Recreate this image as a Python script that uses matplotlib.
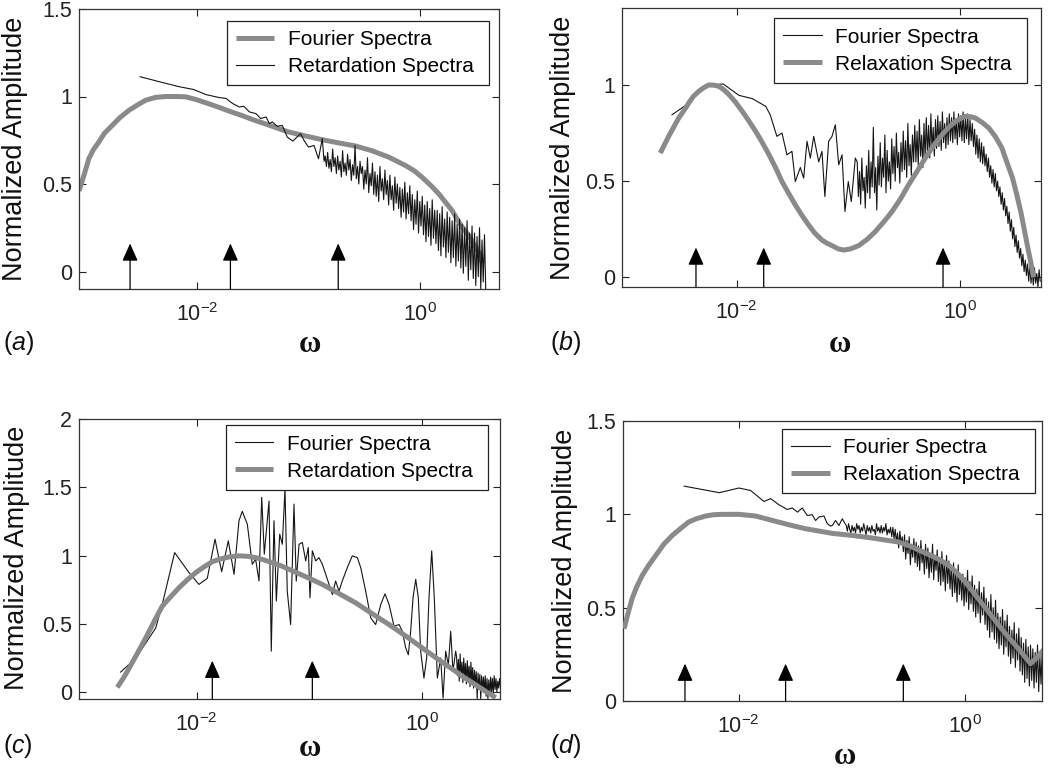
import numpy as np
import matplotlib
matplotlib.use("Agg")
import matplotlib.pyplot as plt
from matplotlib.ticker import FixedLocator, FixedFormatter, NullLocator

plt.rcParams['font.family'] = ['Liberation Sans', 'DejaVu Sans']
plt.rcParams['mathtext.fontset'] = 'custom'
plt.rcParams['mathtext.rm'] = 'Liberation Sans'
plt.rcParams['mathtext.it'] = 'Liberation Sans:italic'
plt.rcParams['mathtext.bf'] = 'Liberation Sans:bold'

# ---------------- data (x values are log10(omega)) -------------
# panel (a)
a_smooth_logw = [-3.058, -3.01, -2.97, -2.93, -2.88, -2.83, -2.76, -2.69, -2.61, -2.53, -2.46, -2.37,
                 -2.28, -2.19, -2.10, -2.01, -1.92, -1.81, -1.71, -1.60, -1.50, -1.38, -1.265, -1.175,
                 -1.03, -0.876, -0.73, -0.577, -0.43, -0.278, -0.128, -0.05, 0.02, 0.10, 0.17, 0.23,
                 0.29, 0.35, 0.44, 0.53, 0.56]
a_smooth_amp = [0.46, 0.557, 0.644, 0.695, 0.74, 0.79, 0.835, 0.88, 0.921, 0.953, 0.979, 0.995,
                1.0, 1.0, 0.998, 0.983, 0.964, 0.94, 0.916, 0.892, 0.868, 0.842, 0.816, 0.797,
                0.775, 0.753, 0.735, 0.717, 0.69, 0.653, 0.605, 0.575, 0.538, 0.49, 0.443, 0.395,
                0.347, 0.28, 0.203, 0.107, 0.05]
a_noisy_logw = [-2.51, -2.31, -2.16, -2.03, -1.92, -1.80, -1.74, -1.68, -1.62, -1.58, -1.53, -1.47, -1.43,
                -1.38, -1.35, -1.325, -1.28, -1.235, -1.19, -1.14, -1.10, -1.07, -1.04, -1.00, -0.95,
                -0.91, -0.876, -0.86]
a_noisy_amp = [1.113, 1.08, 1.056, 1.04, 1.011, 0.994, 0.989, 0.96, 0.94, 0.944, 0.912, 0.902, 0.874,
               0.883, 0.845, 0.855, 0.83, 0.835, 0.768, 0.745, 0.77, 0.787, 0.749, 0.711, 0.72,
               0.644, 0.76, 0.63]
a_dense_range = (-0.85, 0.59)
a_dense_amp = [0.66, 0.60, 0.68, 0.59, 0.64, 0.57, 0.70, 0.60, 0.65, 0.56,
               0.66, 0.58, 0.63, 0.54, 0.69, 0.57, 0.62, 0.55, 0.67, 0.58,
               0.64, 0.52, 0.61, 0.55, 0.72, 0.53, 0.60, 0.50, 0.63, 0.56,
               0.60, 0.47, 0.58, 0.50, 0.65, 0.45, 0.56, 0.49, 0.62, 0.44,
               0.57, 0.43, 0.55, 0.40, 0.60, 0.46, 0.53, 0.41, 0.58, 0.44,
               0.52, 0.38, 0.55, 0.41, 0.49, 0.35, 0.54, 0.39, 0.50, 0.36,
               0.48, 0.31, 0.47, 0.34, 0.51, 0.30, 0.45, 0.33, 0.49, 0.29,
               0.44, 0.24, 0.41, 0.27, 0.46, 0.22, 0.40, 0.26, 0.43, 0.21,
               0.38, 0.17, 0.40, 0.20, 0.36, 0.15, 0.41, 0.19, 0.35, 0.16,
               0.35, 0.12, 0.33, 0.09, 0.37, 0.14, 0.30, 0.08, 0.34, 0.11,
               0.31, 0.05, 0.29, 0.08, 0.33, 0.03, 0.27, 0.06, 0.30, 0.02,
               0.27, -0.01, 0.25, 0.03, 0.29, -0.05, 0.22, 0.01, 0.26, -0.04,
               0.22, -0.08, 0.20, -0.03, 0.25, -0.10, 0.18, -0.06, 0.21, -0.10]
a_arrows_logw = [-2.60, -1.70, -0.733]
a_arrow_tip = 0.16

# panel (b)
b_smooth_logw = [-2.685, -2.61, -2.52, -2.47, -2.43, -2.39, -2.34, -2.29, -2.25, -2.205, -2.16, -2.115,
                 -2.07, -2.01, -1.95, -1.89, -1.83, -1.77, -1.71, -1.65, -1.594, -1.535, -1.475, -1.415,
                 -1.355, -1.30, -1.236, -1.19, -1.146, -1.09, -1.04, -0.98, -0.907, -0.83, -0.758,
                 -0.68, -0.608, -0.53, -0.461, -0.385, -0.31, -0.235, -0.16, -0.10, -0.04, 0.00,
                 0.05, 0.095, 0.14, 0.20, 0.26, 0.32, 0.377, 0.42, 0.47, 0.51, 0.55, 0.58, 0.61,
                 0.635, 0.66]
b_smooth_amp = [0.646, 0.733, 0.828, 0.87, 0.906, 0.94, 0.967, 0.988, 1.0, 0.999, 0.993, 0.975,
                0.95, 0.91, 0.863, 0.812, 0.759, 0.70, 0.637, 0.568, 0.498, 0.437, 0.377, 0.322,
                0.272, 0.23, 0.194, 0.177, 0.165, 0.148, 0.142, 0.148, 0.165, 0.198, 0.238,
                0.29, 0.342, 0.41, 0.48, 0.55, 0.62, 0.685, 0.741, 0.78, 0.811, 0.825,
                0.837, 0.835, 0.828, 0.805, 0.776, 0.73, 0.672, 0.60, 0.52, 0.43, 0.33, 0.24, 0.15,
                0.08, 0.0]
b_noisy_logw = [-2.58, -2.535, -2.43, -2.34, -2.25, -2.12, -1.98, -1.86, -1.74, -1.70, -1.64, -1.594,
                -1.55, -1.505, -1.475, -1.43, -1.40, -1.37, -1.34, -1.31, -1.265, -1.236, -1.21,
                -1.176, -1.146, -1.116, -1.086, -1.056, -1.03, -1.00, -0.973, -0.937]
b_noisy_amp = [0.845, 0.863, 0.906, 0.97, 1.0, 1.005, 0.946, 0.929, 0.889, 0.845, 0.733, 0.75,
               0.637, 0.655, 0.498, 0.571, 0.516, 0.707, 0.62, 0.733, 0.60, 0.655, 0.42,
               0.707, 0.733, 0.793, 0.585, 0.637, 0.342, 0.498, 0.394, 0.62]
b_dense_range = (-0.92, 0.72)
b_dense_amp = [0.60, 0.42, 0.55, 0.38, 0.62, 0.45, 0.52, 0.36, 0.58, 0.44,
               0.66, 0.41, 0.60, 0.47, 0.78, 0.44, 0.57, 0.35, 0.63, 0.48,
               0.70, 0.47, 0.62, 0.52, 0.74, 0.44, 0.66, 0.50, 0.60, 0.46,
               0.72, 0.54, 0.68, 0.50, 0.75, 0.57, 0.65, 0.49, 0.70, 0.55,
               0.76, 0.56, 0.71, 0.52, 0.80, 0.58, 0.69, 0.53, 0.74, 0.60,
               0.79, 0.60, 0.76, 0.58, 0.82, 0.63, 0.74, 0.57, 0.80, 0.62,
               0.83, 0.64, 0.79, 0.62, 0.85, 0.66, 0.78, 0.63, 0.82, 0.67,
               0.84, 0.68, 0.81, 0.66, 0.86, 0.70, 0.80, 0.67, 0.83, 0.69,
               0.85, 0.71, 0.83, 0.70, 0.86, 0.72, 0.82, 0.69, 0.85, 0.73,
               0.84, 0.71, 0.86, 0.70, 0.83, 0.72, 0.85, 0.69, 0.82, 0.71,
               0.80, 0.68, 0.77, 0.64, 0.74, 0.62, 0.72, 0.60, 0.70, 0.59,
               0.68, 0.58, 0.64, 0.55, 0.62, 0.52, 0.58, 0.49, 0.56, 0.47,
               0.54, 0.45, 0.50, 0.42, 0.47, 0.38, 0.44, 0.35, 0.41, 0.32,
               0.37, 0.28, 0.34, 0.24, 0.30, 0.20, 0.26, 0.16, 0.22, 0.13,
               0.19, 0.10, 0.15, 0.06, 0.12, 0.03, 0.09, 0.01, 0.07, -0.02,
               0.06, -0.03, 0.04, -0.04, 0.05, -0.03, 0.02, -0.05, 0.04, -0.02]
b_arrows_logw = [-2.365, -1.758, -0.151]
b_arrow_tip = 0.155

# panel (c)
c_smooth_logw = [-2.706, -2.65, -2.60, -2.53, -2.453, -2.38, -2.306, -2.23, -2.157, -2.08, -2.009,
                 -1.93, -1.86, -1.79, -1.713, -1.624, -1.55, -1.476, -1.40, -1.328, -1.25, -1.18,
                 -1.03, -0.883, -0.735, -0.587, -0.44, -0.29, -0.14, 0.005, 0.15, 0.302, 0.39, 0.48,
                 0.57, 0.658]
c_smooth_amp = [0.035, 0.105, 0.176, 0.28, 0.397, 0.515, 0.63, 0.70, 0.765, 0.825, 0.875,
                0.92, 0.956, 0.975, 0.99, 0.998, 0.995, 0.985, 0.968, 0.948, 0.925, 0.90,
                0.845, 0.789, 0.722, 0.654, 0.575, 0.495, 0.41, 0.324, 0.238, 0.152, 0.10, 0.054,
                0.005, -0.04]
c_noisy_logw = [-2.676, -2.54, -2.364, -2.306, -2.196, -2.068, -1.98, -1.906, -1.837, -1.778, -1.719,
                -1.668, -1.624, -1.595, -1.55, -1.506, -1.476, -1.446, -1.422, -1.399, -1.357, -1.337,
                -1.313, -1.292, -1.262, -1.239, -1.215, -1.195, -1.165, -1.135, -1.115, -1.09, -1.061,
                -1.031, -1.008, -0.993, -0.972, -0.942, -0.913, -0.883, -0.853, -0.824, -0.794,
                -0.765, -0.735, -0.706, -0.661, -0.617, -0.572, -0.542, -0.498, -0.453, -0.409,
                -0.364, -0.326, -0.29, -0.246, -0.201, -0.172, -0.142, -0.119, -0.098, -0.077,
                -0.053, -0.03, -0.009, 0.02, 0.044, 0.065, 0.089, 0.112, 0.139, 0.169, 0.19, 0.213,
                0.237, 0.258, 0.278, 0.302]
c_noisy_amp = [0.147, 0.25, 0.47, 0.642, 1.022, 0.875, 0.789, 0.833, 1.12, 0.882, 1.108,
               0.863, 1.255, 1.324, 1.23, 0.936, 0.973, 0.814, 1.426, 1.01, 1.40, 0.30,
               1.255, 0.667, 1.157, 1.083, 1.488, 0.74, 0.495, 1.377, 0.814, 1.083, 1.096,
               0.961, 1.059, 0.691, 1.035, 0.961, 0.985, 0.936, 0.863, 0.789, 0.715,
               0.814, 0.74, 0.814, 0.912, 0.998, 0.985, 0.912, 0.74, 0.544, 0.495,
               0.642, 0.72, 0.642, 0.483, 0.495, 0.446, 0.324, 0.274, 0.446, 0.691,
               0.826, 0.691, 0.30, 0.103, 0.25, 0.691, 1.035, 0.691, 0.103, 0.25, -0.044, 0.30,
               0.20, 0.446, 0.152, 0.30]
c_dense_range = (0.31, 0.70)
c_dense_amp = [0.26, 0.12, 0.24, 0.08, 0.28, 0.11, 0.22, 0.07, 0.25, 0.10,
               0.21, 0.06, 0.23, 0.09, 0.19, 0.04, 0.22, 0.07, 0.18, 0.03,
               0.16, 0.05, 0.15, -0.05, 0.14, 0.02, 0.13, -0.05, 0.12, 0.01,
               0.11, 0.00, 0.12, -0.03, 0.10, -0.05, 0.09, -0.02, 0.11, 0.00,
               0.10, -0.01, 0.12, 0.02, 0.10, 0.00, 0.08, 0.03, 0.10, 0.04]
c_arrows_logw = [-1.861, -0.972]
c_arrow_tip = 0.23

# panel (d)
d_smooth_logw = [-3.01, -2.98, -2.94, -2.90, -2.85, -2.79, -2.73, -2.66, -2.585, -2.51, -2.44, -2.37,
                 -2.29, -2.22, -2.144, -1.997, -1.85, -1.70, -1.555, -1.41, -1.173, -0.996, -0.82,
                 -0.584, -0.467, -0.38, -0.29, -0.215, -0.143, -0.07, 0.003, 0.075, 0.15, 0.225,
                 0.298, 0.37, 0.445, 0.51, 0.577, 0.65, 0.70]
d_smooth_amp = [0.387, 0.46, 0.548, 0.61, 0.673, 0.73, 0.78, 0.84, 0.887, 0.925, 0.959, 0.977,
                0.991, 0.998, 1.0, 1.0, 0.991, 0.967, 0.944, 0.923, 0.898, 0.887, 0.873,
                0.851, 0.825, 0.80, 0.777, 0.753, 0.726, 0.685, 0.637, 0.58, 0.521, 0.463,
                0.405, 0.35, 0.298, 0.25, 0.20, 0.244, 0.28]
d_noisy_logw = [-2.48, -2.17, -1.997, -1.894, -1.776, -1.717, -1.643, -1.57, -1.526, -1.48, -1.438,
                -1.394, -1.35, -1.32, -1.29, -1.246, -1.217, -1.188, -1.173, -1.144, -1.114, -1.085,
                -1.06]
d_noisy_amp = [1.151, 1.116, 1.141, 1.128, 1.069, 1.084, 1.051, 1.026, 1.034, 1.012, 1.034,
               0.994, 0.998, 0.967, 0.986, 0.991, 0.95, 0.937, 0.94, 0.967, 0.94, 0.976, 0.95]
d_dense_range = (-1.05, 0.69)
d_dense_amp = [0.94, 0.91, 0.95, 0.92, 0.90, 0.94, 0.91, 0.93, 0.90, 0.95,
               0.92, 0.94, 0.90, 0.93, 0.91, 0.95, 0.92, 0.89, 0.94, 0.91,
               0.93, 0.90, 0.94, 0.91, 0.92, 0.89, 0.95, 0.91, 0.93, 0.90,
               0.94, 0.90, 0.93, 0.91, 0.95, 0.89, 0.92, 0.90, 0.93, 0.88,
               0.93, 0.87, 0.92, 0.85, 0.90, 0.82, 0.91, 0.84, 0.88, 0.80,
               0.89, 0.76, 0.86, 0.79, 0.88, 0.73, 0.84, 0.77, 0.87, 0.74,
               0.85, 0.72, 0.83, 0.70, 0.86, 0.74, 0.81, 0.68, 0.84, 0.71,
               0.82, 0.66, 0.79, 0.69, 0.84, 0.65, 0.78, 0.70, 0.81, 0.64,
               0.77, 0.62, 0.80, 0.64, 0.74, 0.59, 0.78, 0.63, 0.75, 0.60,
               0.72, 0.56, 0.74, 0.58, 0.69, 0.53, 0.73, 0.57, 0.68, 0.54,
               0.68, 0.51, 0.66, 0.53, 0.70, 0.49, 0.64, 0.52, 0.67, 0.48,
               0.62, 0.45, 0.60, 0.47, 0.64, 0.42, 0.58, 0.46, 0.61, 0.41,
               0.55, 0.38, 0.53, 0.34, 0.57, 0.37, 0.50, 0.33, 0.54, 0.31,
               0.47, 0.28, 0.45, 0.30, 0.49, 0.25, 0.43, 0.29, 0.46, 0.24,
               0.40, 0.20, 0.38, 0.23, 0.42, 0.18, 0.36, 0.22, 0.39, 0.16,
               0.34, 0.14, 0.31, 0.10, 0.33, 0.12, 0.29, 0.08, 0.30, 0.11,
               0.28, 0.07, 0.26, 0.10, 0.30, 0.05, 0.24, 0.09, 0.27, 0.10]
d_arrows_logw = [-2.473, -1.585, -0.546]
d_arrow_tip = 0.2

legend_labels = {
    'a': ['Fourier Spectra', 'Retardation Spectra'],
    'b': ['Fourier Spectra', 'Relaxation Spectra'],
    'c': ['Fourier Spectra', 'Retardation Spectra'],
    'd': ['Fourier Spectra', 'Relaxation Spectra'],
}

# ---------------- styling / layout ----------------
W, H = 1050, 773
GRAY = '#8a8a8a'
BLACK = '#151515'
fig = plt.figure(figsize=(W / 100, H / 100), dpi=100)


def fig_box(left, top, right, bottom):
    return [left / W, 1 - bottom / H, (right - left) / W, (bottom - top) / H]


panels = {
    'a': dict(box=fig_box(79, 9, 499, 289), xlim=(-3.058, 0.709), ylim=(-0.1, 1.5),
              yt=[0, 0.5, 1, 1.5], smooth=(a_smooth_logw, a_smooth_amp),
              noisy=(a_noisy_logw, a_noisy_amp), dense=(a_dense_range, a_dense_amp),
              arrows=a_arrows_logw, tip=a_arrow_tip, gray_label_first=True,
              leg=(489, 20.7), ylab=(15, 149), omega=(310, 345), tag=(3, 343)),
    'b': dict(box=fig_box(622, 8, 1041, 287), xlim=(-3.028, 0.727), ylim=(-0.05, 1.4),
              yt=[0, 0.5, 1], smooth=(b_smooth_logw, b_smooth_amp),
              noisy=(b_noisy_logw, b_noisy_amp), dense=(b_dense_range, b_dense_amp),
              arrows=b_arrows_logw, tip=b_arrow_tip, gray_label_first=False,
              leg=(1027, 18.3), ylab=(563, 148), omega=(840, 345), tag=(550, 343)),
    'c': dict(box=fig_box(79, 419, 500, 699), xlim=(-3.046, 0.696), ylim=(-0.05, 2.0),
              yt=[0, 0.5, 1, 1.5, 2], smooth=(c_smooth_logw, c_smooth_amp),
              noisy=(c_noisy_logw, c_noisy_amp), dense=(c_dense_range, c_dense_amp),
              arrows=c_arrows_logw, tip=c_arrow_tip, gray_label_first=False,
              leg=(488, 425.3), ylab=(17, 558), omega=(310, 749), tag=(3, 746)),
    'd': dict(box=fig_box(623, 421, 1042, 701), xlim=(-3.02, 0.678), ylim=(0.0, 1.5),
              yt=[0, 0.5, 1, 1.5], smooth=(d_smooth_logw, d_smooth_amp),
              noisy=(d_noisy_logw, d_noisy_amp), dense=(d_dense_range, d_dense_amp),
              arrows=d_arrows_logw, tip=d_arrow_tip, gray_label_first=False,
              leg=(1035, 428.7), ylab=(565, 561), omega=(845, 757), tag=(550, 746)),
}

for key, p in panels.items():
    ax = fig.add_axes(p['box'])
    ax.set_xscale('log')
    ax.set_xlim(10 ** p['xlim'][0], 10 ** p['xlim'][1])
    ax.set_ylim(*p['ylim'])

    s_x = 10 ** np.array(p['smooth'][0])
    s_y = np.array(p['smooth'][1])
    (rng, dvals) = p['dense']
    n_x = np.concatenate([10 ** np.array(p['noisy'][0]),
                          10 ** np.linspace(rng[0], rng[1], len(dvals))])
    n_y = np.concatenate([np.array(p['noisy'][1]), np.array(dvals)])

    # trailing space gives the wider right margin seen inside the original legend boxes
    labs = [t + ' ' for t in legend_labels[key]]
    gray_kw = dict(color=GRAY, lw=3.6, solid_capstyle='butt', solid_joinstyle='round')
    if p['gray_label_first']:
        ax.plot(s_x, s_y, label=labs[0], zorder=2, **gray_kw)
        ax.plot(n_x, n_y, color=BLACK, lw=0.8, label=labs[1], zorder=3)
    else:
        ax.plot(n_x, n_y, color=BLACK, lw=0.8, label=labs[0], zorder=2)
        ax.plot(s_x, s_y, label=labs[1], zorder=3, **gray_kw)

    for lw_ in p['arrows']:
        ax.annotate('', xy=(10 ** lw_, p['tip']), xytext=(10 ** lw_, p['ylim'][0]),
                    arrowprops=dict(arrowstyle='-|>,head_length=0.45,head_width=0.2',
                                    mutation_scale=24, lw=0.9, color='black',
                                    shrinkA=0, shrinkB=0), zorder=4)

    ax.xaxis.set_major_locator(FixedLocator([1e-2, 1e0]))
    ax.xaxis.set_major_formatter(FixedFormatter([r'$10^{-2}$', r'$10^{0}$']))
    ax.xaxis.set_minor_locator(NullLocator())
    ax.yaxis.set_major_locator(FixedLocator(p['yt']))
    ax.yaxis.set_major_formatter(FixedFormatter([f'{v:g}' for v in p['yt']]))
    ax.tick_params(axis='both', which='major', direction='in', top=True, right=True,
                   length=5, width=0.8, labelsize=15.5, colors='#222222')
    ax.tick_params(axis='x', pad=10)
    ax.tick_params(axis='y', pad=5)
    for sp in ax.spines.values():
        sp.set_color('#333333')
        sp.set_linewidth(0.9)

    leg = ax.legend(loc='upper right', bbox_to_anchor=(p['leg'][0] / W, 1 - p['leg'][1] / H),
                    bbox_transform=fig.transFigure, fontsize=15, frameon=True, fancybox=False,
                    framealpha=1, edgecolor='#222222', handlelength=1.85, handletextpad=0.65,
                    borderpad=0.45, labelspacing=0.38, borderaxespad=0)
    leg.get_frame().set_linewidth(0.9)

    fig.text(p['ylab'][0] / W, 1 - p['ylab'][1] / H, 'Normalized Amplitude', rotation=90,
             ha='center', va='center', fontsize=19.5, color='#111111')
    fig.text(p['omega'][0] / W, 1 - p['omega'][1] / H, 'ω', ha='center', va='center',
             fontsize=22, fontweight='bold', family=['Liberation Serif', 'DejaVu Serif'],
             color='#111111')
    fig.text(p['tag'][0] / W, 1 - p['tag'][1] / H, r'($\mathit{%s}$)' % key, ha='left',
             va='center', fontsize=18, color='#111111')

fig.savefig('out.png', dpi=100)
